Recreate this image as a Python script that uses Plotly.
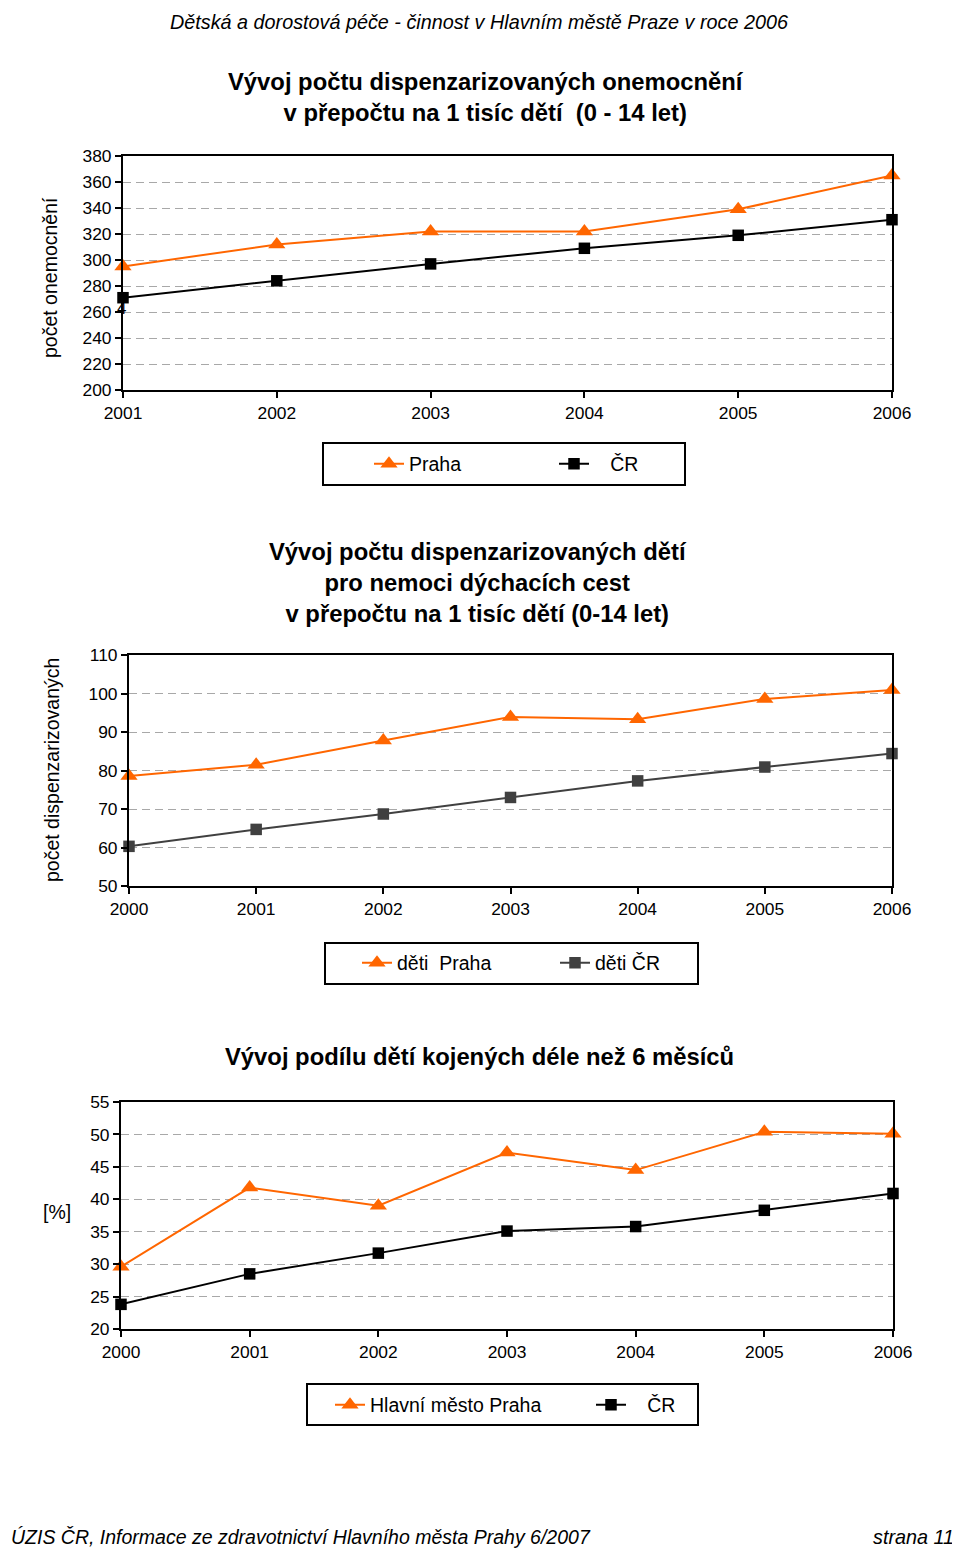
import plotly.graph_objects as go

# ---------------- data ----------------
years1 = [2001, 2002, 2003, 2004, 2005, 2006]
praha1 = [295, 312, 322, 322, 339, 365]
cr1 = [271, 284, 297, 309, 319, 331]

years2 = [2000, 2001, 2002, 2003, 2004, 2005, 2006]
praha2 = [78.6, 81.5, 87.8, 93.9, 93.3, 98.6, 100.9]
cr2 = [60.3, 64.7, 68.7, 73.0, 77.3, 80.9, 84.4]

years3 = [2000, 2001, 2002, 2003, 2004, 2005, 2006]
praha3 = [29.6, 41.8, 39.0, 47.2, 44.5, 50.4, 50.1]
cr3 = [23.8, 28.5, 31.7, 35.1, 35.8, 38.3, 40.9]

y1_ticks = [200, 220, 240, 260, 280, 300, 320, 340, 360, 380]
y2_ticks = [50, 60, 70, 80, 90, 100, 110]
y3_ticks = [20, 25, 30, 35, 40, 45, 50, 55]

NB = "\u00a0"
names1 = ["Praha", NB * 3 + "ČR"]
names2 = ["děti" + NB + NB + "Praha", "děti ČR"]
names3 = ["Hlavní město Praha", NB * 3 + "ČR"]

title1 = "Vývoj počtu dispenzarizovaných onemocnění<br>v přepočtu na 1 tisíc dětí  (0 - 14 let)"
title2 = "Vývoj počtu dispenzarizovaných dětí<br>pro nemoci dýchacích cest<br>v přepočtu na 1 tisíc dětí (0-14 let)"
title3 = "Vývoj podílu dětí kojených déle než 6 měsíců"
header = "Dětská a dorostová péče - činnost v Hlavním městě Praze v roce 2006"
footer_left = "ÚZIS ČR, Informace ze zdravotnictví Hlavního města Prahy 6/2007"
footer_right = "strana 11"

# ---------------- style ----------------
PAGE_W, PAGE_H = 960, 1550
OFF = 8  # page body margin of the html page
W, H = PAGE_W - OFF, PAGE_H - OFF
FONT = "Liberation Sans, Arial, sans-serif"
ORANGE = "#FF6600"
BLACK = "#000000"
DGRAY = "#404040"
GRID = "#A8A8A8"


def px(x):
    return (x - OFF) / W


def py(y):
    return 1 - (y - OFF) / H


fig = go.Figure()


def add_series(x, y, name, color, symbol, msize, xa, ya, legend):
    fig.add_trace(go.Scatter(
        x=x, y=y, name=name, mode="lines+markers",
        line=dict(color=color, width=2),
        marker=dict(symbol=symbol, size=msize, color=color, line=dict(width=0)),
        xaxis=xa, yaxis=ya, legend=legend, cliponaxis=False,
    ))


add_series(years1, praha1, names1[0], ORANGE, "triangle-up", 15, "x", "y", "legend")
add_series(years1, cr1, names1[1], BLACK, "square", 11.5, "x", "y", "legend")
add_series(years2, praha2, names2[0], ORANGE, "triangle-up", 15, "x2", "y2", "legend2")
add_series(years2, cr2, names2[1], DGRAY, "square", 11.5, "x2", "y2", "legend2")
add_series(years3, praha3, names3[0], ORANGE, "triangle-up", 15, "x3", "y3", "legend3")
add_series(years3, cr3, names3[1], BLACK, "square", 11.5, "x3", "y3", "legend3")

axis_common = dict(
    showline=True, linecolor=BLACK, linewidth=2, mirror=True,
    ticks="outside", ticklen=6, tickwidth=1.5, tickcolor=BLACK,
    tickfont=dict(family=FONT, size=17.4, color=BLACK),
    zeroline=False, automargin=False,
)


def xaxis(domain, years, anchor):
    return dict(domain=domain, range=[years[0], years[-1]], tickvals=years,
                showgrid=False, anchor=anchor, **axis_common)


def yaxis(domain, ticks, anchor):
    return dict(domain=domain, range=[ticks[0], ticks[-1]], tickvals=ticks,
                showgrid=True, gridcolor=GRID, gridwidth=1, griddash="8px,5px",
                anchor=anchor, **axis_common)


fig.update_layout(
    template="none",
    xaxis=xaxis([px(123), px(892)], years1, "y"),
    yaxis=yaxis([py(390), py(156)], y1_ticks, "x"),
    xaxis2=xaxis([px(129), px(892)], years2, "y2"),
    yaxis2=yaxis([py(886), py(655)], y2_ticks, "x2"),
    xaxis3=xaxis([px(121), px(893)], years3, "y3"),
    yaxis3=yaxis([py(1329), py(1102)], y3_ticks, "x3"),
)

legend_common = dict(
    orientation="h", xref="paper", yref="paper", xanchor="left", yanchor="middle",
    bgcolor="rgba(0,0,0,0)", borderwidth=0,
    font=dict(family=FONT, size=19.5, color=BLACK),
    entrywidthmode="pixels",
)
fig.update_layout(
    legend=dict(x=px(369), y=py(464), entrywidth=140, **legend_common),
    legend2=dict(x=px(357), y=py(963), entrywidth=153, **legend_common),
    legend3=dict(x=px(330), y=py(1405), entrywidth=216, **legend_common),
)

# legend frames
boxes = [(323, 443, 685, 485), (325, 943, 698, 984), (307, 1384, 698, 1425)]
shapes = []
for (x0, y0, x1, y1) in boxes:
    shapes.append(dict(type="rect", xref="paper", yref="paper",
                       x0=px(x0), x1=px(x1), y0=py(y1), y1=py(y0),
                       line=dict(color=BLACK, width=2), fillcolor="rgba(0,0,0,0)",
                       layer="below"))

ann = []


def text(x, y, t, size, bold=False, italic=False, xanchor="center", angle=0, yanchor="middle"):
    if bold:
        t = "<b>" + t + "</b>"
    if italic:
        t = "<i>" + t + "</i>"
    ann.append(dict(x=px(x), y=py(y), xref="paper", yref="paper", text=t,
                    showarrow=False, xanchor=xanchor, yanchor=yanchor, textangle=angle,
                    font=dict(family=FONT, size=size, color=BLACK)))


text(479, 9, header, 19.8, italic=True, yanchor="top")
text(486, 97, title1, 23.8, bold=True)
text(478, 582, title2, 23.8, bold=True)
text(479, 1056, title3, 23.8, bold=True)
text(50, 278, "počet onemocnění", 19.5, angle=-90)
text(52, 770, "počet dispenzarizovaných", 19.5, angle=-90)
text(57, 1212, "[%]", 19.5)
text(121, 309, "4", 17)
text(9, 1537, footer_left, 19.5, italic=True, xanchor="left")
text(956, 1537, footer_right, 19.8, italic=True, xanchor="right")

fig.update_layout(
    annotations=ann,
    shapes=shapes,
    width=W, height=H, autosize=False,
    margin=dict(l=0, r=0, t=0, b=0, pad=0),
    paper_bgcolor="white", plot_bgcolor="white",
    font=dict(family=FONT, color=BLACK),
)

fig.write_html("out.html")
